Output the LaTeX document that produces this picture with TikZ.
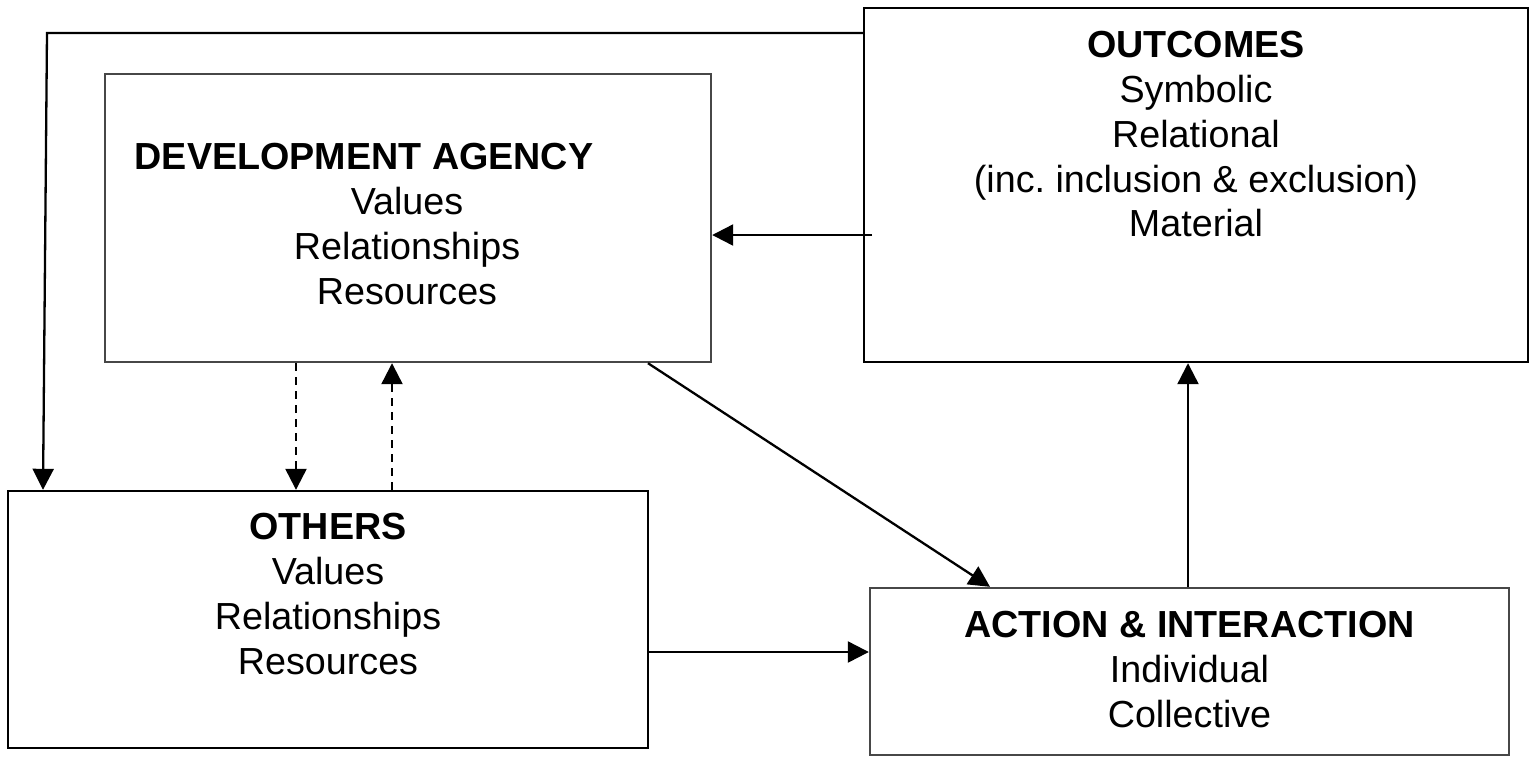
\documentclass[tikz,border=0pt]{standalone}
\usepackage{fontspec}
\setmainfont{Liberation Sans}
\usetikzlibrary{arrows.meta}
\frenchspacing
\begin{document}
\begin{tikzpicture}[x=0.5pt,y=-0.5pt,
  box/.style={draw=black, line width=1.2pt, rectangle, inner sep=0pt},
  graybox/.style={box, draw=black!72},
  txt/.style={inner sep=0pt, align=center, anchor=north, font=\fontsize{18.85}{22.4}\selectfont},
  arr/.style={line width=1.15pt, -{Triangle[length=10.5pt,width=10.5pt]}},
  darr/.style={arr, dash pattern=on 4pt off 3pt}]
\useasboundingbox (0,0) rectangle (1531,761);
% boxes
\node[graybox, minimum width=303pt, minimum height=144pt] (da) at (408,218) {};
\node[box, minimum width=332pt, minimum height=177pt] (outc) at (1196,185) {};
\node[box, minimum width=320pt, minimum height=128.5pt] (oth) at (328,619.5) {};
\node[graybox, minimum width=319.5pt, minimum height=83.5pt] (act) at (1189.5,671.5) {};
% texts
\node[txt] (datitle) at (364,143) {\textbf{DEVELOPMENT AGENCY}};
\node[txt] (dabody) at (407,187) {Values\\Relationships\\Resources};
\node[txt] (outtext) at (1196,31) {\textbf{OUTCOMES}\\Symbolic\\Relational\\(inc.\ inclusion \& exclusion)\\Material};
\node[txt] (othtext) at (328,513) {\textbf{OTHERS}\\Values\\Relationships\\Resources};
\node[txt] (acttext) at (1189.5,611) {\textbf{ACTION \& INTERACTION}\\Individual\\Collective};
% helper coordinates
\coordinate (fb1) at (47,33);
\coordinate (fb2) at (43,491);
\coordinate (a1) at (872,235);
\coordinate (d1) at (296,0);
\coordinate (d2) at (392,0);
\coordinate (g1) at (648,0);
\coordinate (g2) at (990,0);
\coordinate (h) at (0,652);
\coordinate (v) at (1188,0);
% connectors
\draw[arr] (fb1 -| outc.west) -- (fb1) -- (fb2 |- oth.north);
\draw[arr] (a1) -- (a1 -| da.east);
\draw[darr] (d1 |- da.south) -- (d1 |- oth.north);
\draw[darr] (d2 |- oth.north) -- (d2 |- da.south);
\draw[arr] (g1 |- da.south) -- (g2 |- act.north);
\draw[arr] (h -| oth.east) -- (h -| act.west);
\draw[arr] (v |- act.north) -- (v |- outc.south);
\end{tikzpicture}
\end{document}
